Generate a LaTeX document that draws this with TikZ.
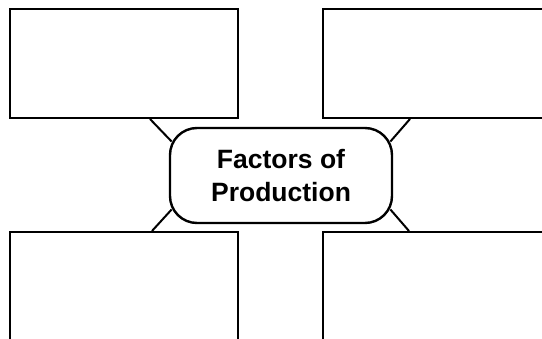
\documentclass[tikz,border=0pt]{standalone}
\usepackage{fontspec}
\setmainfont{Liberation Sans}
\usetikzlibrary{positioning}

\begin{document}
\begin{tikzpicture}[
    x=1pt, y=-1pt, line width=2pt,
    box/.style={draw, minimum width=228pt, minimum height=109pt, inner sep=0pt},
    topic/.style={draw, line width=2.4pt, rounded corners=27pt, minimum width=222pt, minimum height=95pt,
        align=center, font=\bfseries\fontsize{26.5}{33}\selectfont}]

		\useasboundingbox (0,0) rectangle (542,339);
		\clip (0,0) rectangle (542,339);

		\node[topic] (fop) at (281,175.5) {Factors of\\Production};

		\node[box] (tl) at (124,63.5) {};
		\node[box, minimum width=237pt] (tr) at (441.5,63.5) {};
		\node[box, minimum height=128pt] (bl) at (124,296) {};
		\node[box, minimum width=237pt, minimum height=128pt] (br) at (441.5,296) {};

		% spokes from the centre to the four boxes
		\draw ([xshift=-89pt]tl.south east) -- ([xshift=2.8pt, yshift=-14.7pt]fop.north west);
		\draw ([xshift=88pt]tr.south west) -- ([xshift=-2.8pt, yshift=-14.7pt]fop.north east);
		\draw ([xshift=-87pt]bl.north east) -- ([xshift=2.8pt, yshift=14.7pt]fop.south west);
		\draw ([xshift=87pt]br.north west) -- ([xshift=-2.8pt, yshift=14.7pt]fop.south east);

\end{tikzpicture}
\end{document}
